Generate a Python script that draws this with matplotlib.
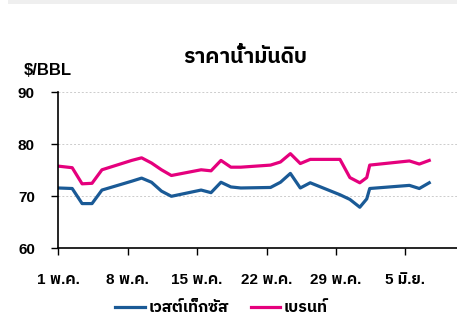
import matplotlib
matplotlib.use('Agg')
import matplotlib.pyplot as plt
from matplotlib.patches import Rectangle

# days since 1 May
days = [0, 1.4, 2.4, 3.4, 4.4, 7.4, 8.4, 9.4, 10.4, 11.4, 14.4, 15.4, 16.4, 17.4,
        18.4, 21.4, 22.4, 23.4, 24.4, 25.4, 28.4, 29.4, 30.4, 31.1, 31.4, 35.4,
        36.4, 37.4]
wti = [71.6, 71.5, 68.6, 68.6, 71.2, 72.9, 73.5, 72.7, 71.0, 70.0, 71.2, 70.7,
       72.7, 71.8, 71.6, 71.7, 72.7, 74.4, 71.6, 72.6, 70.3, 69.4, 67.9, 69.5,
       71.5, 72.1, 71.5, 72.6]
brent = [75.8, 75.5, 72.4, 72.5, 75.1, 76.9, 77.4, 76.4, 75.1, 74.0, 75.1, 74.9,
         76.9, 75.6, 75.6, 76.0, 76.6, 78.2, 76.3, 77.1, 77.1, 73.6, 72.6, 73.6,
         76.0, 76.8, 76.2, 76.9]
series_names = ['เวสต์เท็กซัส', 'เบรนท์']
tick_days = [0, 7, 14, 21, 28, 35]
tick_labels = ['1 พ.ค.', '8 พ.ค.', '15 พ.ค.', '22 พ.ค.', '29 พ.ค.', '5 มิ.ย.']
yticks = [60, 70, 80, 90]

plt.rcParams['font.family'] = ['Liberation Sans', 'IBM Plex Sans Thai']
plt.rcParams['font.weight'] = 'bold'

fig = plt.figure(figsize=(4.57, 3.22), dpi=100)
fig.patches.append(Rectangle((8/457, 1-3.5/322), 1, 3.5/322, transform=fig.transFigure,
                             facecolor='#efefef', edgecolor='none'))
ax = fig.add_axes([58.3/457, 1-248.3/322, 1-58.3/457, (248.3-92.3)/322])

ax.plot(days, wti, color='#1a5a96', lw=2.3, label=series_names[0], solid_joinstyle='round')
ax.plot(days, brent, color='#e5007d', lw=2.3, label=series_names[1], solid_joinstyle='round')

ax.set_xlim(0, 40.2)
ax.set_ylim(60, 90)
ax.set_yticks(yticks)
ax.set_xticks(tick_days)
ax.set_xticklabels(tick_labels)
for y in yticks[1:]:
    ax.axhline(y, color='#cccccc', lw=0.7, ls=(0, (2, 2)), zorder=0)
ax.tick_params(axis='y', length=5, width=1, pad=11.8, labelsize=11, direction='out')
ax.tick_params(axis='x', length=5, width=1, pad=12.5, labelsize=11, direction='out')
for s in ['top', 'right']:
    ax.spines[s].set_visible(False)
for s in ['left', 'bottom']:
    ax.spines[s].set_linewidth(1.2)

fig.text(245/457, 1-57/322, 'ราคาน้ำมันดิบ', ha='center', va='center',
         fontsize=15, fontweight='bold')
fig.text(47.5/457, 1-70.5/322, '$/BBL', ha='center', va='center', fontsize=12,
         fontweight='bold')

fig.legend(loc='center', bbox_to_anchor=(221.5/457, 1-308/322), ncol=2, frameon=False,
           fontsize=11.5, handlelength=1.85, handletextpad=0.2, columnspacing=1.4)

fig.savefig('out.png')
